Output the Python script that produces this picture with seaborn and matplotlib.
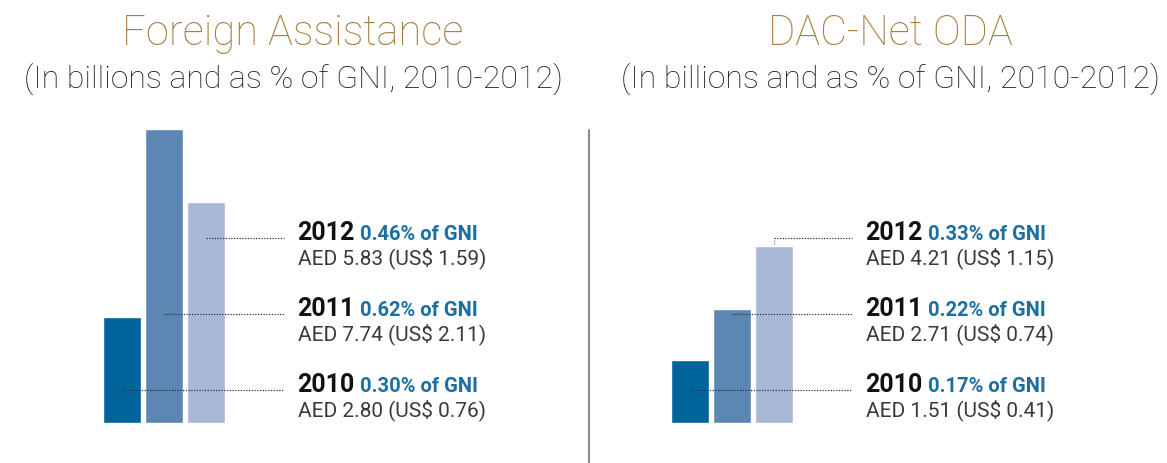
import matplotlib
matplotlib.use("Agg")
import matplotlib.pyplot as plt
import matplotlib.transforms as mtransforms
from matplotlib.lines import Line2D
import seaborn as sns

# values
years = ["2010", "2011", "2012"]
fa_aed = [2.80, 7.74, 5.83]
fa_usd = [0.76, 2.11, 1.59]
fa_gni = [0.30, 0.62, 0.46]
oda_aed = [1.51, 2.71, 4.21]
oda_usd = [0.41, 0.74, 1.15]
oda_gni = [0.17, 0.22, 0.33]

bar_colors = ["#00649a", "#5b87b2", "#a7b7d5"]
title_color = "#a67c3e"
pct_color = "#1b6fa2"

sns.set_style("white")
plt.rcParams['font.family'] = ['Roboto', 'DejaVu Sans']

W, H = 1167, 464
fig = plt.figure(figsize=(W / 100, H / 100), dpi=100)


def px_axes(left, top, width, height):
    return fig.add_axes([left / W, 1 - (top + height) / H, width / W, height / H])


def panel(ax, aed, usd, gni, ymax):
    sns.barplot(x=years, y=aed, hue=years, palette=bar_colors, width=0.905,
                saturation=1, legend=False, ax=ax)
    ax.set_xlim(-0.5, 2.5)
    ax.set_ylim(0, ymax)
    ax.axis("off")
    trans = mtransforms.blended_transform_factory(ax.transData, ax.transAxes)
    ax_h = 294
    line_px = [391, 315, 239]  # distance from top of figure
    for i, yr in enumerate(years):
        yf = (424 - line_px[i]) / ax_h
        ax.plot([i, 3.85], [yf, yf], transform=trans, ls=(0, (1, 1.2)),
                color="#333333", lw=0.9, clip_on=False, zorder=3)
        top = aed[i] / ymax
        if top < yf:
            ax.plot([i, i], [top + 2 / ax_h, yf], transform=trans, ls=(0, (1, 1.2)),
                    color="#888888", lw=0.9, clip_on=False, zorder=3)
        t = ax.text(4.18, yf - 1 / ax_h, yr, transform=trans, fontsize=18,
                    fontweight="bold", color="#111111", va="baseline", ha="left")
        ax.annotate(f"{gni[i]:.2f}% of GNI", xy=(1, 0), xycoords=t,
                    xytext=(4, 1), textcoords="offset points", fontsize=14.5,
                    fontweight="bold", color=pct_color, va="bottom", ha="left")
        ax.text(4.18, yf - 25 / ax_h, f"AED {aed[i]:.2f} (US$ {usd[i]:.2f})",
                transform=trans, fontsize=15, fontweight="normal", color="#3a3a3a",
                va="baseline", ha="left")


ax1 = px_axes(101, 130, 126, 294)
panel(ax1, fa_aed, fa_usd, fa_gni, 7.74)
ax2 = px_axes(669, 130, 126, 294)
panel(ax2, oda_aed, oda_usd, oda_gni, 7.0)

# divider
fig.add_artist(Line2D([589 / W, 589 / W], [1 - 131 / H, 0], color="#8a8a8a", lw=1.5))

# titles
for cx, title in [(293, "Foreign Assistance"), (890, "DAC-Net ODA")]:
    fig.text(cx / W, 1 - 45 / H, title, ha="center", va="baseline", fontsize=30,
             fontweight="light", color=title_color)
    fig.text(cx / W, 1 - 88 / H, "(In billions and as % of GNI, 2010-2012)",
             ha="center", va="baseline", fontsize=23, fontweight="light",
             color="#1a1a1a")

fig.savefig("out.png", dpi=100)
